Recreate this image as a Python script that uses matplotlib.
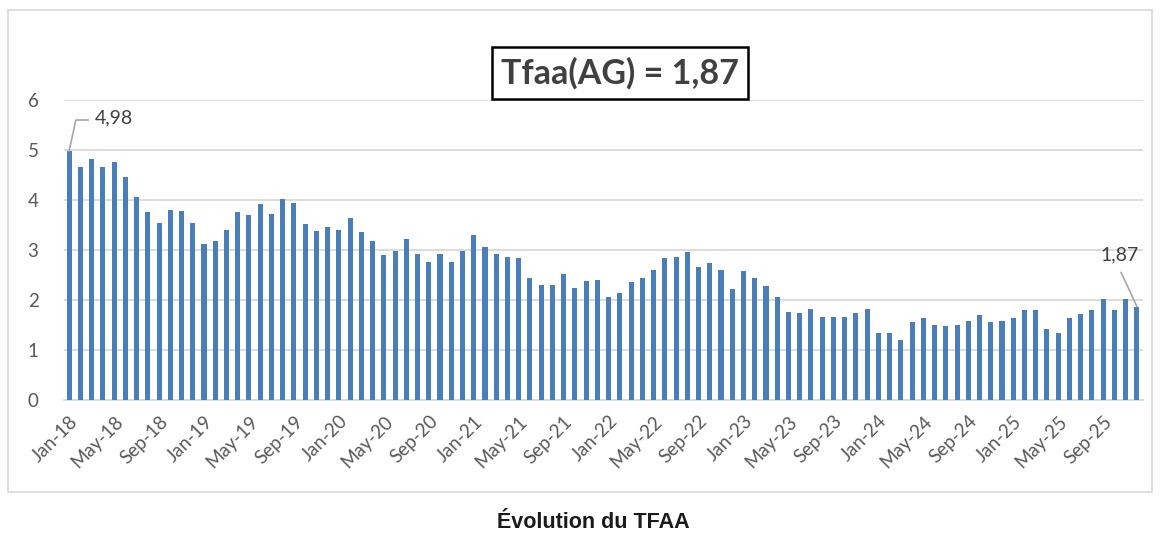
import numpy as np
import matplotlib.pyplot as plt
from matplotlib.patches import Rectangle

plt.rcParams['font.family'] = ['Lato', 'DejaVu Sans']

# monthly values Jan-18 .. Dec-25
tfaa = [4.98, 4.67, 4.82, 4.67, 4.76, 4.46, 4.07, 3.77, 3.54, 3.81, 3.79, 3.55,
        3.13, 3.19, 3.41, 3.77, 3.70, 3.93, 3.72, 4.02, 3.95, 3.52, 3.39, 3.47,
        3.41, 3.65, 3.37, 3.19, 2.91, 2.99, 3.22, 2.92, 2.76, 2.92, 2.76, 2.99,
        3.31, 3.06, 2.92, 2.87, 2.84, 2.45, 2.31, 2.31, 2.53, 2.25, 2.39, 2.41,
        2.06, 2.15, 2.37, 2.45, 2.61, 2.85, 2.87, 2.96, 2.66, 2.75, 2.61, 2.22,
        2.59, 2.44, 2.29, 2.06, 1.76, 1.75, 1.82, 1.67, 1.67, 1.67, 1.75, 1.82,
        1.35, 1.35, 1.20, 1.57, 1.65, 1.51, 1.49, 1.51, 1.58, 1.71, 1.57, 1.58,
        1.65, 1.80, 1.80, 1.42, 1.35, 1.65, 1.73, 1.81, 2.02, 1.80, 2.03, 1.87]
months = ['Jan', 'Feb', 'Mar', 'Apr', 'May', 'Jun', 'Jul', 'Aug', 'Sep', 'Oct', 'Nov', 'Dec']
years = ['18', '19', '20', '21', '22', '23', '24', '25']
labels = [m + '-' + y for y in years for m in months]
title_txt = 'Tfaa(AG) = 1,87'
caption = 'Évolution du TFAA'

fig = plt.figure(figsize=(11.61, 5.33), dpi=100)
W, H = 1161, 533

# outer chart frame
fig.patches.append(Rectangle((8 / W, 1 - 492 / H), 1144 / W, 482 / H, transform=fig.transFigure,
                             fill=False, edgecolor='#d9d9d9', linewidth=1.2))

ax = fig.add_axes([63.5 / W, 1 - 400 / H, 1079 / W, 300 / H])
x = np.arange(len(tfaa))
ax.bar(x, tfaa, width=0.45, color='#4a7ebb', zorder=3)
ax.set_xlim(-0.5, len(tfaa) - 0.5)
ax.set_ylim(0, 6)
ax.set_yticks(range(7))
ax.yaxis.grid(True, color='#d9d9d9', linewidth=1.3, zorder=0)
for s in ['top', 'right', 'left']:
    ax.spines[s].set_visible(False)
ax.spines['bottom'].set_color('#d9d9d9')
ax.spines['bottom'].set_linewidth(1.3)
ax.tick_params(axis='both', length=0, labelsize=13.5, labelcolor='#595959')
ax.tick_params(axis='y', pad=18)
ax.set_xticks(x[::4])
ax.set_xticklabels(labels[::4], rotation=45, ha='right', rotation_mode='anchor')
ax.tick_params(axis='x', pad=9)

# data labels with leader lines
ax.plot([0, 0.6, 1.7], [tfaa[0], 5.6, 5.6], color='#a6a6a6', linewidth=1.2, zorder=4, clip_on=False)
ax.text(2.3, 5.65, '4,98', fontsize=14, color='#404040', va='center', ha='left')
n = len(tfaa) - 1
ax.plot([n, n - 1.4], [tfaa[n], 2.55], color='#a6a6a6', linewidth=1.2, zorder=4, clip_on=False)
ax.text(n - 1.5, 2.9, '1,87', fontsize=14, color='#404040', va='center', ha='center')

fig.text(620 / W, 1 - 73 / H, title_txt, fontsize=24.5, fontweight='bold', color='#404040',
         ha='center', va='center',
         bbox=dict(boxstyle='square,pad=0.28', facecolor='white', edgecolor='black', linewidth=1.8))
fig.text(593 / W, 1 - 522 / H, caption, fontsize=15.5, fontweight='bold', color='#1a1a1a',
         ha='center', va='center', family=['Liberation Sans', 'DejaVu Sans'])

fig.savefig('out.png', dpi=100)
